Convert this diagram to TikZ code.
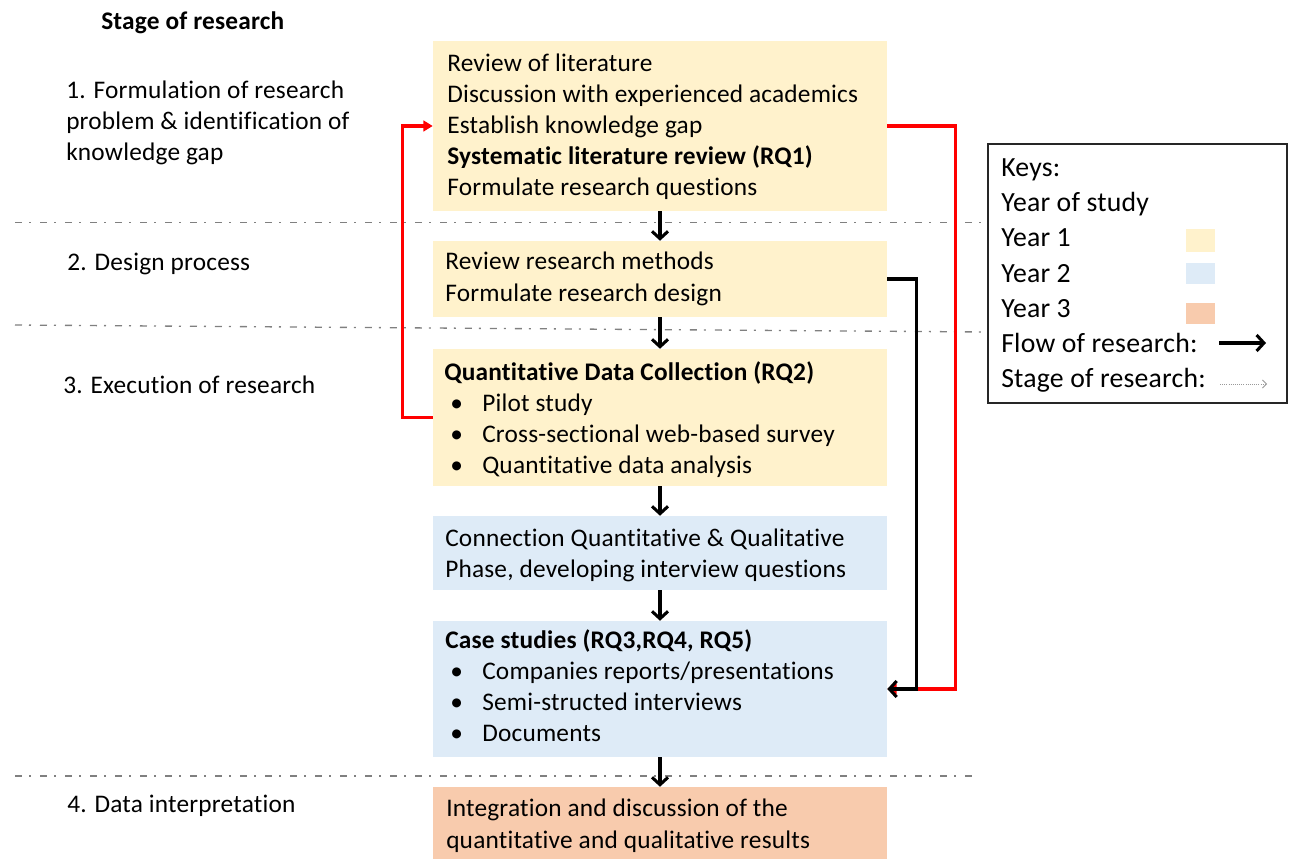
\documentclass[tikz,border=0pt]{standalone}
\usepackage{fontspec}
\setmainfont{Carlito}[Ligatures=NoCommon,LetterSpace=0.8]
\usetikzlibrary{arrows.meta,fit}

\definecolor{yearone}{HTML}{FFF2CC}
\definecolor{yeartwo}{HTML}{DEEBF7}
\definecolor{yearthree}{HTML}{F8CBAD}
\definecolor{stageline}{HTML}{808080}
\definecolor{loopred}{HTML}{FF0000}

\begin{document}
\begin{tikzpicture}[x=0.75pt,y=-0.75pt,
  box/.style={inner sep=0pt,draw=none},
  txt/.style={anchor=base west,inner sep=0pt,font=\fontsize{19}{23}\selectfont},
  btxt/.style={txt,font=\fontsize{19}{23}\selectfont\bfseries},
  keytxt/.style={txt,font=\fontsize{20.8}{25}\selectfont},
  flow/.style={line width=2.3pt,-{Straight Barb[length=5.5pt,width=12pt]}},
  loop/.style={line width=2.3pt,draw=loopred,-{Triangle[length=7pt,width=8pt]}},
  stagesep/.style={draw=stageline,line width=1pt,dash pattern=on 5.25pt off 5.25pt on 1.5pt off 6.75pt},
  swatch/.style={inner sep=0pt,draw=none}]

\useasboundingbox (0,0) rectangle (1292,859);

% stage separators
\coordinate (s1a) at (15,222.5);  \coordinate (s1b) at (988,222.5);
\coordinate (s2a) at (15,325);    \coordinate (s2b) at (988,332);
\coordinate (s3a) at (15,776);    \coordinate (s3b) at (978,776);
\draw[stagesep] (s1a) -- (s1b);
\draw[stagesep] (s2a) -- (s2b);
\draw[stagesep] (s3a) -- (s3b);

% stage labels
\node[btxt] (hdr) at (101,30) {Stage of research};
\node[txt] (st1a) at (66,99) {1. Formulation of research};
\node[txt] (st1b) at (66,130) {problem \& identification of};
\node[txt] (st1c) at (66,161) {knowledge gap};
\node[txt] (st2) at (67,271) {2. Design process};
\node[txt] (st3) at (63,393) {3. Execution of research};
\node[txt] (st4) at (67,812) {4. Data interpretation};

% process boxes
\node[box,fill=yearone,fit={(433,41)(887,211)}] (b1) {};
\node[box,fill=yearone,fit={(433,241)(887,317)}] (b2) {};
\node[box,fill=yearone,fit={(433,349)(887,486)}] (b3) {};
\node[box,fill=yeartwo,fit={(433,516)(887,590)}] (b4) {};
\node[box,fill=yeartwo,fit={(433,621)(887,757)}] (b5) {};
\node[box,fill=yearthree,fit={(433,787)(887,860)}] (b6) {};

% box 1
\node[txt] (t11) at (447,72) {Review of literature};
\node[txt] (t12) at (447,103) {Discussion with experienced academics};
\node[txt] (t13) at (447,134) {Establish knowledge gap};
\node[btxt] (t14) at (447,165) {Systematic literature review (RQ1)};
\node[txt] (t15) at (447,196) {Formulate research questions};
% box 2
\node[txt] (t21) at (445,270) {Review research methods};
\node[txt] (t22) at (445,301) {Formulate research design};
% box 3
\node[btxt] (t31) at (444,380) {Quantitative Data Collection (RQ2)};
\node[txt] (d32) at (450,411) {•}; \node[txt] (t32) at (482,411) {Pilot study};
\node[txt] (d33) at (450,442) {•}; \node[txt] (t33) at (482,442) {Cross-sectional web-based survey};
\node[txt] (d34) at (450,473) {•}; \node[txt] (t34) at (482,473) {Quantitative data analysis};
% box 4
\node[txt] (t41) at (445,546) {Connection Quantitative \& Qualitative};
\node[txt] (t42) at (445,577) {Phase, developing interview questions};
% box 5
\node[btxt] (t51) at (445,648) {Case studies (RQ3,RQ4, RQ5)};
\node[txt] (d52) at (450,679) {•}; \node[txt] (t52) at (482,679) {Companies reports/presentations};
\node[txt] (d53) at (450,710) {•}; \node[txt] (t53) at (482,710) {Semi-structed interviews};
\node[txt] (d54) at (450,741) {•}; \node[txt] (t54) at (482,741) {Documents};
% box 6
\node[txt] (t61) at (446,816) {Integration and discussion of the};
\node[txt] (t62) at (446,848) {quantitative and qualitative results};

% flow of research
\draw[flow] (b1.south) -- (b2.north);
\draw[flow] (b2.south) -- (b3.north);
\draw[flow] (b3.south) -- (b4.north);
\draw[flow] (b4.south) -- (b5.north);
\draw[flow] (b5.south) -- (b6.north);

% feedback loops
\draw[loop] (b3.west) -- ++(-30,0) |- (b1.west);
\draw[loop] (b1.east) -- ++(68,0) |- (b5.east);
\draw[flow] (b2.east) -- ++(29,0) |- (b5.east);

% key
\node[draw=black!85,line width=0.9pt,inner sep=0pt,fit={(988,144)(1287,403)}] (key) {};
\node[keytxt] (k1) at (1001,177) {Keys:};
\node[keytxt] (k2) at (1001,212) {Year of study};
\node[keytxt] (k3) at (1001,247) {Year 1};
\node[keytxt] (k4) at (1001,282) {Year 2};
\node[keytxt] (k5) at (1001,317) {Year 3};
\node[keytxt] (k6) at (1001,352) {Flow of research:};
\node[keytxt] (k7) at (1001,387) {Stage of research:};
\node[swatch,fill=yearone,fit={(1186,229)(1215,252)}] (sw1) {};
\node[swatch,fill=yeartwo,fit={(1186,263)(1215,284)}] (sw2) {};
\node[swatch,fill=yearthree,fit={(1186,303)(1215,324)}] (sw3) {};
\coordinate (fa) at (1219,343); \coordinate (fb) at (1266,343);
\draw[flow] (fa) -- (fb);
\coordinate (sa) at (1220,384); \coordinate (sb) at (1267,384);
\draw[draw=black!40,line width=0.6pt,densely dotted,-{Straight Barb[length=3pt,width=6pt]}] (sa) -- (sb);

\end{tikzpicture}
\end{document}
